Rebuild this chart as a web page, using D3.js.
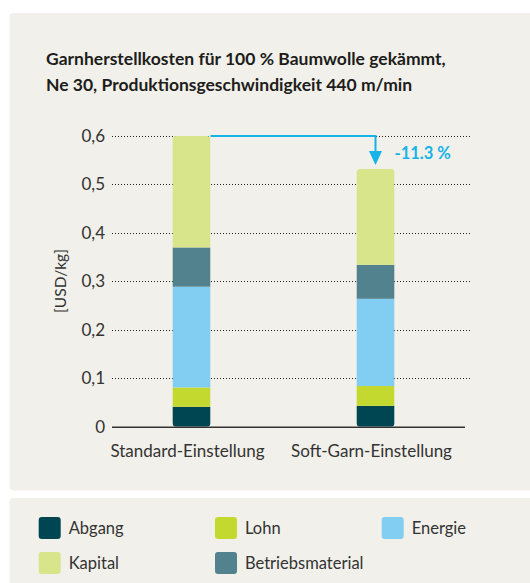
<!DOCTYPE html>
<html>
<head>
<meta charset="utf-8">
<script src="https://cdn.jsdelivr.net/npm/d3@7"></script>
<style>
  body { margin: 0; background: #fff; }
  svg { display: block; font-family: Lato, "Noto Sans", sans-serif; }
</style>
</head>
<body>
<script>
// data (USD/kg)
var categories = ["Standard-Einstellung", "Soft-Garn-Einstellung"];
var abgang = [0.041, 0.043];
var lohn = [0.040, 0.041];
var energie = [0.208, 0.180];
var betriebsmaterial = [0.081, 0.070];
var kapital = [0.230, 0.198];
var yTicks = [0, 0.1, 0.2, 0.3, 0.4, 0.5, 0.6];
var changeLabel = "-11.3 %";
var titleLines = ["Garnherstellkosten für 100 % Baumwolle gekämmt,",
                  "Ne 30, Produktionsgeschwindigkeit 440 m/min"];

var seriesKeys = ["Abgang", "Lohn", "Energie", "Betriebsmaterial", "Kapital"];
var legendOrder = ["Abgang", "Lohn", "Energie", "Kapital", "Betriebsmaterial"];
var colors = {
    "Abgang": "#004652",
    "Lohn": "#c3d92f",
    "Energie": "#82cdf2",
    "Betriebsmaterial": "#53828f",
    "Kapital": "#d8e58b"
};

var rows = categories.map(function(c, i) {
    return {cat: c, "Abgang": abgang[i], "Lohn": lohn[i], "Energie": energie[i],
            "Betriebsmaterial": betriebsmaterial[i], "Kapital": kapital[i]};
});

var W = 530, H = 583;
var svg = d3.select("body").append("svg")
    .attr("width", W).attr("height", H);

// panels
svg.append("rect").attr("x", 9.5).attr("y", 13).attr("width", 540).attr("height", 477.5)
    .attr("rx", 4).attr("fill", "#f1f0ea");
svg.append("rect").attr("x", 9.5).attr("y", 498).attr("width", 540).attr("height", 100)
    .attr("rx", 4).attr("fill", "#f1f0ea");

// title
svg.append("g").selectAll("text")
    .data(titleLines)
    .enter().append("text")
    .attr("x", 46)
    .attr("y", function(d, i) { return 65 + i * 25.5; })
    .attr("font-size", 17.5)
    .attr("font-weight", "bold")
    .attr("fill", "#1d1d1b")
    .text(function(d) { return d; });

var x = d3.scaleBand()
    .domain(categories)
    .range([112, 455])
    .paddingInner(0.793)
    .paddingOuter(0.3285);

var y = d3.scaleLinear()
    .domain([0, 0.6])
    .range([426.7, 136]);

// gridlines
svg.append("g").selectAll("line")
    .data(yTicks.filter(function(d) { return d > 0; }))
    .enter().append("line")
    .attr("x1", 112).attr("x2", 470)
    .attr("y1", function(d) { return Math.round(y(d)) + 0.5; })
    .attr("y2", function(d) { return Math.round(y(d)) + 0.5; })
    .attr("stroke", "#222")
    .attr("stroke-width", 1)
    .attr("stroke-dasharray", "1,2");

// y axis labels
var yAxis = svg.append("g")
    .attr("transform", "translate(105,0)")
    .call(d3.axisLeft(y).tickValues(yTicks).tickSize(0).tickPadding(0)
        .tickFormat(function(d) { return d === 0 ? "0" : d3.format(".1f")(d).replace(".", ","); }));
yAxis.select(".domain").remove();
yAxis.selectAll("text")
    .attr("font-size", 17)
    .attr("font-family", "Lato, sans-serif")
    .attr("fill", "#333");

svg.append("text")
    .attr("transform", "translate(66,281) rotate(-90)")
    .attr("text-anchor", "middle")
    .attr("font-size", 15.5)
    .attr("fill", "#333")
    .text("[USD/kg]");

// stacked bars, clipped to rounded outline
var stack = d3.stack().keys(seriesKeys)(rows);
var defs = svg.append("defs");
rows.forEach(function(r, i) {
    var total = d3.sum(seriesKeys, function(k) { return r[k]; });
    defs.append("clipPath").attr("id", "clip" + i)
        .append("rect")
        .attr("x", x(r.cat)).attr("y", y(total))
        .attr("width", x.bandwidth()).attr("height", y(0) - y(total))
        .attr("rx", 4);
});

svg.append("g").selectAll("g")
    .data(stack)
    .enter().append("g")
    .attr("fill", function(d) { return colors[d.key]; })
    .selectAll("rect")
    .data(function(d) { return d; })
    .enter().append("rect")
    .attr("clip-path", function(d, i) { return "url(#clip" + i + ")"; })
    .attr("x", function(d) { return x(d.data.cat); })
    .attr("y", function(d) { return y(d[1]); })
    .attr("width", x.bandwidth())
    .attr("height", function(d) { return y(d[0]) - y(d[1]); });

// baseline
svg.append("line")
    .attr("x1", 112).attr("x2", 465)
    .attr("y1", y(0) + 0.5).attr("y2", y(0) + 0.5)
    .attr("stroke", "#333").attr("stroke-width", 1.5);

// category labels
svg.append("g").selectAll("text")
    .data(categories)
    .enter().append("text")
    .attr("x", function(d) { return x(d) + x.bandwidth() / 2 - 4; })
    .attr("y", 457)
    .attr("text-anchor", "middle")
    .attr("font-size", 17)
    .attr("fill", "#333")
    .text(function(d) { return d; });

// change arrow
var t0 = d3.sum(seriesKeys, function(k) { return rows[0][k]; });
var t1 = d3.sum(seriesKeys, function(k) { return rows[1][k]; });
var ax = x(categories[1]) + x.bandwidth() / 2;
var arrowColor = "#17b3e8";
svg.append("path")
    .attr("d", "M" + (x(categories[0]) + x.bandwidth()) + "," + y(t0) + "H" + ax + "V" + (y(t1) - 16))
    .attr("fill", "none")
    .attr("stroke", arrowColor)
    .attr("stroke-width", 2);
svg.append("path")
    .attr("d", "M" + (ax - 6.5) + "," + (y(t1) - 18) + "L" + (ax + 6.5) + "," + (y(t1) - 18) +
        "L" + ax + "," + (y(t1) - 4) + "Z")
    .attr("fill", arrowColor);
svg.append("text")
    .attr("x", x(categories[1]) + x.bandwidth())
    .attr("y", 158.5)
    .attr("font-size", 16.5)
    .attr("font-weight", "bold")
    .attr("fill", arrowColor)
    .text(changeLabel);

// legend
var colX = [38.7, 215, 381.7], rowY = [517, 552];
var leg = svg.append("g").selectAll("g")
    .data(legendOrder)
    .enter().append("g")
    .attr("transform", function(d, i) {
        return "translate(" + colX[i % 3] + "," + rowY[Math.floor(i / 3)] + ")";
    });
leg.append("rect")
    .attr("width", 22).attr("height", 22).attr("rx", 3)
    .attr("fill", function(d) { return colors[d]; });
leg.append("text")
    .attr("x", 30).attr("y", 17)
    .attr("font-size", 16.5)
    .attr("fill", "#333")
    .text(function(d) { return d; });
</script>
</body>
</html>
